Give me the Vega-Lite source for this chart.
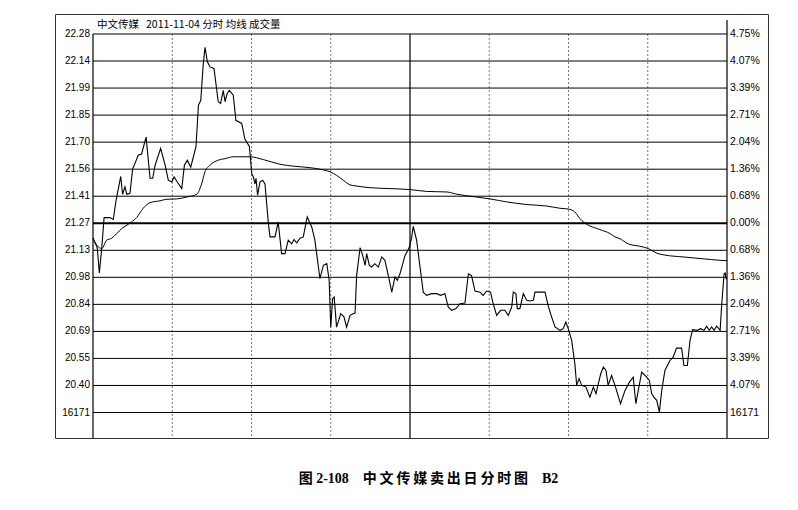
{
  "$schema": "https://vega.github.io/schema/vega-lite/v6.json",
  "width": 713,
  "height": 424,
  "autosize": {"type": "none"},
  "padding": {"left": 55, "top": 14, "right": 30, "bottom": 72},
  "background": "white",
  "config": {"view": {"stroke": "#333", "strokeWidth": 1}},
  "title": {
    "text": "图 2-108\u00a0\u00a0\u00a0\u00a0中\u2009文\u2009传\u2009媒\u2009卖\u2009出\u2009日\u2009分\u2009时\u2009图\u00a0\u00a0\u00a0\u00a0B2",
    "orient": "bottom",
    "anchor": "middle",
    "offset": 33,
    "dx": 17,
    "baseline": "top",
    "font": "Liberation Serif, Noto Sans CJK SC",
    "fontSize": 14,
    "fontWeight": "bold",
    "color": "#000"
  },
  "datasets": {
    "one": [{"k": 1}],
    "grid": [
      {"v": 22.2809, "left": "22.28", "right": "4.75%"},
      {"v": 22.1365, "left": "22.14", "right": "4.07%"},
      {"v": 21.9921, "left": "21.99", "right": "3.39%"},
      {"v": 21.8477, "left": "21.85", "right": "2.71%"},
      {"v": 21.7033, "left": "21.70", "right": "2.04%"},
      {"v": 21.5588, "left": "21.56", "right": "1.36%"},
      {"v": 21.4144, "left": "21.41", "right": "0.68%"},
      {"v": 21.27, "left": "21.27", "right": "0.00%"},
      {"v": 21.1256, "left": "21.13", "right": "0.68%"},
      {"v": 20.9812, "left": "20.98", "right": "1.36%"},
      {"v": 20.8367, "left": "20.84", "right": "2.04%"},
      {"v": 20.6923, "left": "20.69", "right": "2.71%"},
      {"v": 20.5479, "left": "20.55", "right": "3.39%"},
      {"v": 20.4035, "left": "20.40", "right": "4.07%"},
      {"v": 20.2591, "left": "16171", "right": "16171"}
    ],
    "dotted": [{"t": 30}, {"t": 60}, {"t": 90}, {"t": 150}, {"t": 180}, {"t": 210}],
    "solid": [{"t": 0}, {"t": 120}],
    "price": [
      {"t":0,"p":21.19},{"t":1.6,"p":21.14},{"t":2.4,"p":21.005},{"t":3.3,"p":21.135},{"t":4.2,"p":21.30},{"t":6.4,"p":21.30},{"t":7.7,"p":21.29},{"t":8.7,"p":21.39},{"t":10.5,"p":21.52},{"t":11.2,"p":21.425},{"t":12.1,"p":21.465},{"t":12.8,"p":21.425},{"t":14.0,"p":21.43},{"t":15.0,"p":21.56},{"t":15.9,"p":21.59},{"t":17.1,"p":21.633},{"t":18.4,"p":21.64},{"t":20.1,"p":21.73},{"t":21.6,"p":21.51},{"t":22.6,"p":21.51},{"t":23.5,"p":21.58},{"t":25.6,"p":21.67},{"t":27.3,"p":21.58},{"t":28.5,"p":21.50},{"t":29.8,"p":21.49},{"t":30.7,"p":21.517},{"t":31.9,"p":21.49},{"t":33.6,"p":21.455},{"t":34.6,"p":21.58},{"t":35.7,"p":21.607},{"t":37.0,"p":21.57},{"t":39.0,"p":21.68},{"t":39.9,"p":21.90},{"t":40.8,"p":21.927},{"t":41.7,"p":22.114},{"t":42.4,"p":22.21},{"t":43.3,"p":22.132},{"t":44.3,"p":22.105},{"t":45.8,"p":22.097},{"t":47.4,"p":21.92},{"t":48.3,"p":21.91},{"t":49.3,"p":21.98},{"t":50.0,"p":21.92},{"t":50.8,"p":21.963},{"t":51.6,"p":21.98},{"t":53.1,"p":21.954},{"t":54.1,"p":21.82},{"t":56.3,"p":21.803},{"t":57.5,"p":21.72},{"t":59.2,"p":21.68},{"t":60.1,"p":21.535},{"t":60.7,"p":21.517},{"t":61.3,"p":21.48},{"t":61.7,"p":21.51},{"t":62.3,"p":21.42},{"t":63.2,"p":21.49},{"t":64.2,"p":21.50},{"t":65.1,"p":21.48},{"t":66.4,"p":21.268},{"t":67.0,"p":21.197},{"t":68.9,"p":21.197},{"t":70.1,"p":21.277},{"t":71.4,"p":21.108},{"t":72.7,"p":21.108},{"t":73.9,"p":21.18},{"t":75.2,"p":21.16},{"t":76.1,"p":21.183},{"t":77.1,"p":21.165},{"t":78.4,"p":21.19},{"t":79.6,"p":21.197},{"t":81.1,"p":21.304},{"t":82.8,"p":21.25},{"t":84.0,"p":21.18},{"t":85.9,"p":20.974},{"t":87.2,"p":21.045},{"t":88.5,"p":21.054},{"t":89.4,"p":20.965},{"t":90.0,"p":20.715},{"t":90.7,"p":20.867},{"t":91.3,"p":20.876},{"t":92.2,"p":20.715},{"t":93.8,"p":20.787},{"t":95.0,"p":20.77},{"t":96.0,"p":20.715},{"t":97.3,"p":20.778},{"t":98.5,"p":20.787},{"t":99.2,"p":20.79},{"t":99.8,"p":20.99},{"t":101.1,"p":21.14},{"t":102.1,"p":21.097},{"t":103.0,"p":21.045},{"t":103.6,"p":21.108},{"t":104.6,"p":21.045},{"t":105.5,"p":21.036},{"t":106.7,"p":21.054},{"t":108.0,"p":21.036},{"t":109.3,"p":21.09},{"t":110.5,"p":21.072},{"t":111.8,"p":20.99},{"t":113.1,"p":20.902},{"t":114.3,"p":20.983},{"t":115.2,"p":20.965},{"t":116.2,"p":21.0},{"t":118.1,"p":21.097},{"t":119.7,"p":21.14},{"t":120.6,"p":21.19},{"t":121.2,"p":21.254},{"t":122.5,"p":21.18},{"t":123.8,"p":21.036},{"t":125.0,"p":20.902},{"t":126.3,"p":20.885},{"t":128.2,"p":20.894},{"t":130.1,"p":20.894},{"t":131.6,"p":20.885},{"t":133.2,"p":20.894},{"t":134.5,"p":20.822},{"t":135.8,"p":20.805},{"t":137.4,"p":20.814},{"t":138.9,"p":20.84},{"t":140.8,"p":20.844},{"t":142.1,"p":21.0},{"t":143.3,"p":20.99},{"t":144.6,"p":20.908},{"t":146.5,"p":20.902},{"t":147.7,"p":20.885},{"t":149.0,"p":20.908},{"t":150.5,"p":20.902},{"t":151.5,"p":20.84},{"t":152.8,"p":20.778},{"t":154.3,"p":20.805},{"t":155.9,"p":20.805},{"t":157.2,"p":20.778},{"t":158.5,"p":20.822},{"t":159.1,"p":20.902},{"t":160.1,"p":20.894},{"t":160.6,"p":20.814},{"t":161.6,"p":20.814},{"t":162.9,"p":20.894},{"t":164.2,"p":20.858},{"t":165.4,"p":20.855},{"t":166.7,"p":20.858},{"t":167.3,"p":20.902},{"t":171.1,"p":20.902},{"t":172.3,"p":20.83},{"t":173.6,"p":20.77},{"t":174.9,"p":20.716},{"t":176.8,"p":20.698},{"t":178.0,"p":20.707},{"t":179.0,"p":20.742},{"t":179.9,"p":20.707},{"t":181.2,"p":20.644},{"t":182.4,"p":20.52},{"t":183.1,"p":20.404},{"t":184.0,"p":20.44},{"t":185.0,"p":20.404},{"t":186.6,"p":20.395},{"t":188.1,"p":20.341},{"t":189.4,"p":20.395},{"t":190.4,"p":20.36},{"t":191.3,"p":20.413},{"t":192.2,"p":20.466},{"t":193.2,"p":20.502},{"t":194.2,"p":20.484},{"t":195.0,"p":20.404},{"t":196.3,"p":20.457},{"t":197.6,"p":20.404},{"t":199.7,"p":20.306},{"t":201.4,"p":20.377},{"t":203.0,"p":20.42},{"t":204.5,"p":20.448},{"t":205.5,"p":20.306},{"t":207.7,"p":20.475},{"t":209.6,"p":20.448},{"t":210.6,"p":20.43},{"t":211.5,"p":20.36},{"t":212.3,"p":20.341},{"t":213.4,"p":20.324},{"t":214.4,"p":20.261},{"t":215.3,"p":20.377},{"t":216.5,"p":20.484},{"t":218.4,"p":20.537},{"t":219.6,"p":20.555},{"t":220.9,"p":20.603},{"t":222.8,"p":20.603},{"t":223.7,"p":20.51},{"t":225.0,"p":20.51},{"t":226.0,"p":20.644},{"t":227.0,"p":20.702},{"t":228.8,"p":20.698},{"t":230.0,"p":20.707},{"t":231.3,"p":20.698},{"t":232.3,"p":20.72},{"t":233.3,"p":20.698},{"t":234.2,"p":20.716},{"t":235.1,"p":20.698},{"t":236.1,"p":20.72},{"t":237.4,"p":20.698},{"t":238.0,"p":20.837},{"t":238.9,"p":21.0},{"t":239.3,"p":21.004},{"t":239.7,"p":20.974},{"t":240,"p":20.98}
    ],
    "avg": [
      {"t":0,"p":21.19},{"t":1.6,"p":21.15},{"t":3.3,"p":21.135},{"t":5.2,"p":21.18},{"t":7.1,"p":21.19},{"t":9.0,"p":21.215},{"t":10.9,"p":21.242},{"t":13.4,"p":21.265},{"t":16.5,"p":21.30},{"t":19.0,"p":21.35},{"t":21.6,"p":21.38},{"t":25.4,"p":21.39},{"t":27.9,"p":21.398},{"t":31.7,"p":21.40},{"t":35.5,"p":21.41},{"t":39.3,"p":21.425},{"t":41.1,"p":21.48},{"t":42.4,"p":21.545},{"t":44.3,"p":21.58},{"t":47.4,"p":21.607},{"t":50.0,"p":21.615},{"t":53.1,"p":21.625},{"t":59.4,"p":21.625},{"t":64.5,"p":21.61},{"t":70.8,"p":21.585},{"t":75.8,"p":21.575},{"t":82.1,"p":21.567},{"t":87.2,"p":21.555},{"t":89.7,"p":21.545},{"t":92.2,"p":21.526},{"t":94.7,"p":21.50},{"t":97.3,"p":21.475},{"t":99.2,"p":21.47},{"t":104.8,"p":21.46},{"t":112.4,"p":21.455},{"t":120.0,"p":21.45},{"t":126.3,"p":21.44},{"t":133.9,"p":21.437},{"t":137.7,"p":21.425},{"t":145.2,"p":21.41},{"t":150.3,"p":21.40},{"t":156.6,"p":21.384},{"t":164.2,"p":21.37},{"t":171.7,"p":21.362},{"t":176.8,"p":21.35},{"t":179.9,"p":21.346},{"t":182.4,"p":21.33},{"t":184.3,"p":21.295},{"t":186.9,"p":21.265},{"t":191.9,"p":21.236},{"t":195.7,"p":21.215},{"t":197.6,"p":21.197},{"t":199.1,"p":21.19},{"t":202.6,"p":21.16},{"t":207.0,"p":21.147},{"t":210.2,"p":21.135},{"t":213.4,"p":21.11},{"t":216.5,"p":21.10},{"t":223.4,"p":21.09},{"t":231.0,"p":21.08},{"t":237.4,"p":21.072},{"t":240,"p":21.07}
    ]
  },
  "layer": [
    {
      "data": {"name": "dotted"},
      "mark": {"type": "rule", "stroke": "#777", "strokeWidth": 1, "strokeDash": [2, 2]},
      "encoding": {
        "x": {"field": "t", "type": "quantitative", "scale": {"domain": [-14.385, 255.52], "nice": false, "zero": false}, "axis": null},
        "y": {"datum": 22.2809, "type": "quantitative", "scale": {"domain": [20.1229, 22.3877], "nice": false, "zero": false}, "axis": null},
        "y2": {"datum": 20.1229}
      }
    },
    {
      "data": {"name": "grid"},
      "mark": {"type": "rule", "stroke": "#000"},
      "encoding": {
        "x": {"datum": 0, "type": "quantitative", "scale": {"domain": [-14.385, 255.52], "nice": false, "zero": false}, "axis": null},
        "x2": {"datum": 240},
        "y": {"field": "v", "type": "quantitative", "scale": {"domain": [20.1229, 22.3877], "nice": false, "zero": false}, "axis": null},
        "strokeWidth": {"condition": {"test": "datum.left === '21.27'", "value": 2.2}, "value": 1}
      }
    },
    {
      "data": {"name": "solid"},
      "mark": {"type": "rule", "stroke": "#000", "strokeWidth": 1.2},
      "encoding": {
        "x": {"field": "t", "type": "quantitative", "scale": {"domain": [-14.385, 255.52], "nice": false, "zero": false}, "axis": null},
        "y": {"datum": 22.2809, "type": "quantitative", "scale": {"domain": [20.1229, 22.3877], "nice": false, "zero": false}, "axis": null},
        "y2": {"datum": 20.1229}
      }
    },
    {
      "data": {"name": "one"},
      "mark": {"type": "rule", "stroke": "#000", "strokeWidth": 1.2},
      "encoding": {
        "x": {"datum": 240, "type": "quantitative", "scale": {"domain": [-14.385, 255.52], "nice": false, "zero": false}, "axis": null},
        "y": {"datum": 22.3557, "type": "quantitative", "scale": {"domain": [20.1229, 22.3877], "nice": false, "zero": false}, "axis": null},
        "y2": {"datum": 20.1229}
      }
    },
    {
      "data": {"name": "grid"},
      "mark": {"type": "text", "align": "right", "baseline": "middle", "dx": -3, "font": "Liberation Sans", "fontSize": 10, "fill": "#000"},
      "encoding": {
        "x": {"datum": 0, "type": "quantitative", "scale": {"domain": [-14.385, 255.52], "nice": false, "zero": false}, "axis": null},
        "y": {"field": "v", "type": "quantitative", "scale": {"domain": [20.1229, 22.3877], "nice": false, "zero": false}, "axis": null},
        "text": {"field": "left"}
      }
    },
    {
      "data": {"name": "grid"},
      "mark": {"type": "text", "align": "left", "baseline": "middle", "dx": 3, "font": "Liberation Sans", "fontSize": 10.5, "fill": "#000"},
      "encoding": {
        "x": {"datum": 240, "type": "quantitative", "scale": {"domain": [-14.385, 255.52], "nice": false, "zero": false}, "axis": null},
        "y": {"field": "v", "type": "quantitative", "scale": {"domain": [20.1229, 22.3877], "nice": false, "zero": false}, "axis": null},
        "text": {"field": "right"}
      }
    },
    {
      "data": {"name": "avg"},
      "mark": {"type": "line", "stroke": "#000", "strokeWidth": 1, "interpolate": "monotone"},
      "encoding": {
        "x": {"field": "t", "type": "quantitative", "scale": {"domain": [-14.385, 255.52], "nice": false, "zero": false}, "axis": null},
        "y": {"field": "p", "type": "quantitative", "scale": {"domain": [20.1229, 22.3877], "nice": false, "zero": false}, "axis": null}
      }
    },
    {
      "data": {"name": "price"},
      "mark": {"type": "line", "stroke": "#000", "strokeWidth": 1.1},
      "encoding": {
        "x": {"field": "t", "type": "quantitative", "scale": {"domain": [-14.385, 255.52], "nice": false, "zero": false}, "axis": null},
        "y": {"field": "p", "type": "quantitative", "scale": {"domain": [20.1229, 22.3877], "nice": false, "zero": false}, "axis": null}
      }
    },
    {
      "data": {"name": "one"},
      "mark": {"type": "text", "align": "left", "baseline": "middle", "font": "Noto Sans CJK SC", "fontSize": 10.5, "fill": "#000", "text": "中文传媒\u00a0\u00a0\u00a02011-11-04 分时 均线 成交量"},
      "encoding": {
        "x": {"datum": 1.5, "type": "quantitative", "scale": {"domain": [-14.385, 255.52], "nice": false, "zero": false}, "axis": null},
        "y": {"datum": 22.33, "type": "quantitative", "scale": {"domain": [20.1229, 22.3877], "nice": false, "zero": false}, "axis": null}
      }
    }
  ]
}
